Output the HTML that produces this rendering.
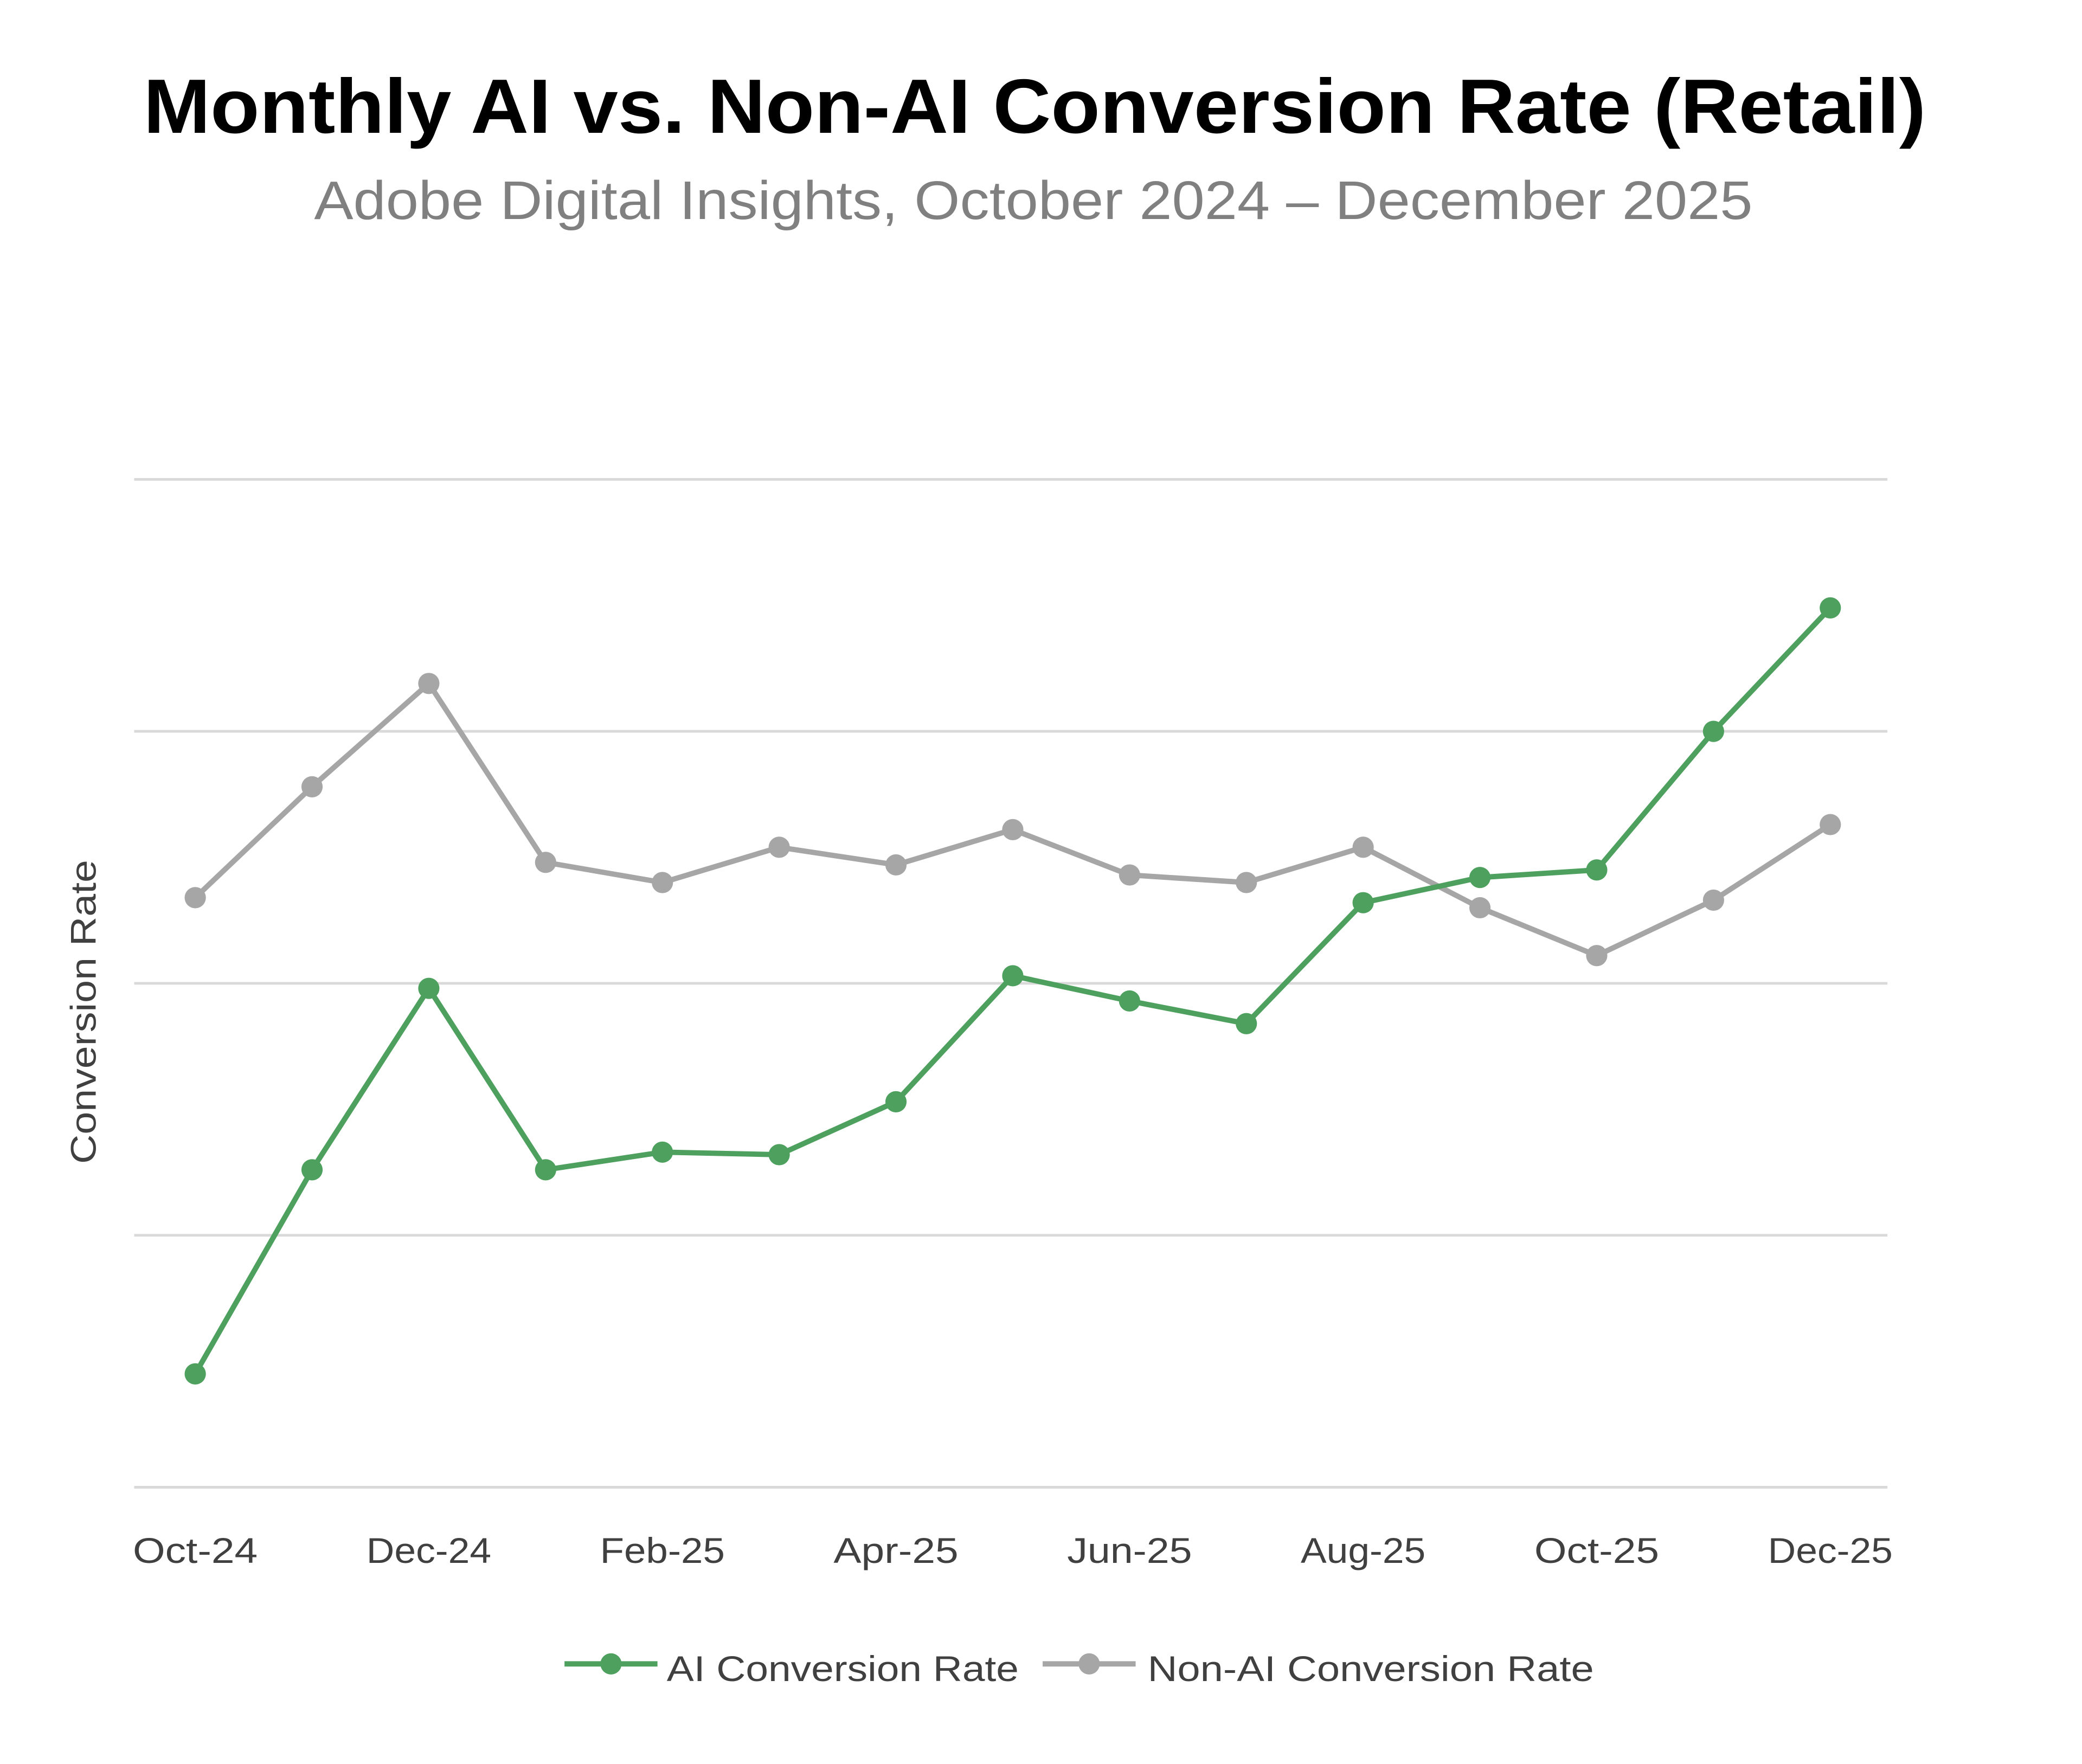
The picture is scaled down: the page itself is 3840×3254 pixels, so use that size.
<!DOCTYPE html>
<html><head><meta charset="utf-8"><style>
html,body{margin:0;padding:0;background:#fff;}
svg{display:block;font-family:"Liberation Sans",sans-serif;}
</style></head><body>
<svg id="chart" width="3840" height="3254" viewBox="0 0 1567.5 1328.4" preserveAspectRatio="none" xmlns="http://www.w3.org/2000/svg">
<rect width="1567.5" height="1328.4" fill="#fff"/>
<text x="779" y="100" text-anchor="middle" font-size="58" font-weight="bold" fill="#000" textLength="1342" lengthAdjust="spacingAndGlyphs">Monthly AI vs. Non-AI Conversion Rate (Retail)</text>
<text x="778" y="165" text-anchor="middle" font-size="41" fill="#808080" textLength="1083" lengthAdjust="spacingAndGlyphs">Adobe Digital Insights, October 2024 – December 2025</text>
<text transform="translate(72,762) rotate(-90)" text-anchor="middle" font-size="27" fill="#404040" textLength="229" lengthAdjust="spacingAndGlyphs">Conversion Rate</text>
<g id="grid"></g>
<g id="xlabels"></g>
<g id="series"></g>
<g>
<line x1="425" y1="1253" x2="495" y2="1253" stroke="#4ea05e" stroke-width="4"/>
<circle cx="460" cy="1253" r="8" fill="#4ea05e"/>
<text x="502" y="1266" font-size="27" fill="#404040" textLength="265" lengthAdjust="spacingAndGlyphs">AI Conversion Rate</text>
<line x1="785" y1="1253" x2="855" y2="1253" stroke="#a6a6a6" stroke-width="4"/>
<circle cx="820" cy="1253" r="8" fill="#a6a6a6"/>
<text x="864" y="1266" font-size="27" fill="#404040" textLength="336" lengthAdjust="spacingAndGlyphs">Non-AI Conversion Rate</text>
</g>
</svg>
<script>
const months = ["Oct-24","Nov-24","Dec-24","Jan-25","Feb-25","Mar-25","Apr-25","May-25","Jun-25","Jul-25","Aug-25","Sep-25","Oct-25","Nov-25","Dec-25"];
const aiValues = [0.45,1.26,1.98,1.26,1.33,1.32,1.53,2.03,1.93,1.84,2.32,2.42,2.45,3.0,3.49];
const nonAiValues = [2.34,2.78,3.19,2.48,2.40,2.54,2.47,2.61,2.43,2.40,2.54,2.30,2.11,2.33,2.63];
const gridValues = [0,1,2,3,4];
const NS="http://www.w3.org/2000/svg";
const X0=147, X1=1378, Y0=1120, YU=189.75;
const xs=i=>X0+(X1-X0)*i/(months.length-1);
const ys=v=>Y0-v*YU;
function mk(tag,attrs,parent){const e=document.createElementNS(NS,tag);for(const k in attrs)e.setAttribute(k,attrs[k]);parent.appendChild(e);return e;}
const grid=document.getElementById('grid');
gridValues.forEach(v=>{const l=mk('line',{x1:101,x2:1421,y1:ys(v),y2:ys(v),stroke:'#d9d9d9','stroke-width':2},grid);

});
const xl=document.getElementById('xlabels');
months.forEach((m,i)=>{if(i%2)return;const t=mk('text',{x:xs(i),y:1177,'text-anchor':'middle','font-size':27,fill:'#404040',textLength:94,lengthAdjust:'spacingAndGlyphs'},xl);t.textContent=m;

});
const sg=document.getElementById('series');
function draw(vals,color,name){
 const p=mk('polyline',{points:vals.map((v,i)=>xs(i)+','+ys(v)).join(' '),fill:'none',stroke:color,'stroke-width':4,'stroke-linejoin':'round'},sg);
 
 
 vals.forEach((v,i)=>{const c=mk('circle',{cx:xs(i),cy:ys(v),r:8,fill:color},sg);
 
 });
}
draw(nonAiValues,'#a6a6a6','non-ai');
draw(aiValues,'#4ea05e','ai');
</script>
</body></html>
